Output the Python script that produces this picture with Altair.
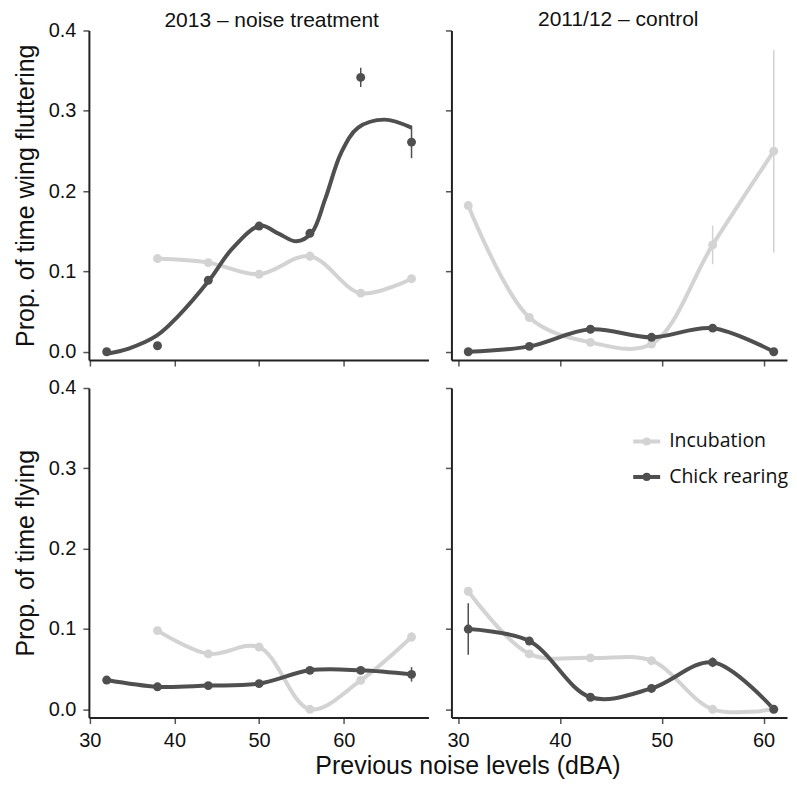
import altair as alt
import pandas as pd

groups = ["Incubation", "Chick rearing"]
colors = ["#d3d3d3", "#4f4f4f"]

# ---- 2013 noise treatment (left column) ----
noise_x_inc = [38, 44, 50, 56, 62, 68]
noise_x_chick = [32, 38, 44, 50, 56, 62, 68]

wf13_inc = [0.116, 0.111, 0.0965, 0.119, 0.073, 0.091]
wf13_inc_se = [0.003, 0.003, 0.003, 0.006, 0.003, 0.004]
wf13_chick = [0.0, 0.0075, 0.089, 0.1565, 0.1475, 0.3416, 0.261]
wf13_chick_se = [0.002, 0.002, 0.003, 0.003, 0.003, 0.012, 0.02]
# smoothed curve for chick rearing
wf13_chick_curve_x = [32, 34.6, 37.9, 40.5, 44.1, 46.8, 50.1, 52.3, 54.4, 56.2, 57.8, 59.7, 61.7, 64.8, 68]
wf13_chick_curve_y = [-0.0025, 0.004, 0.020, 0.045, 0.089, 0.128, 0.157, 0.147, 0.1375, 0.148, 0.19, 0.248, 0.279, 0.289, 0.279]

fl13_inc = [0.098, 0.069, 0.0775, 0.0, 0.036, 0.09]
fl13_inc_se = [0.003, 0.003, 0.003, 0.003, 0.003, 0.006]
fl13_chick = [0.0364, 0.028, 0.0295, 0.032, 0.0485, 0.0485, 0.0435]
fl13_chick_se = [0.002, 0.002, 0.002, 0.002, 0.003, 0.003, 0.009]

# ---- 2011/12 control (right column) ----
ctrl_x = [31, 37, 43, 49, 55, 61]

wf12_inc = [0.182, 0.0427, 0.0117, 0.0096, 0.133, 0.2497]
wf12_inc_se = [0.003, 0.003, 0.002, 0.002, 0.024, 0.126]
wf12_chick = [0.0, 0.0067, 0.028, 0.018, 0.0294, 0.0]
wf12_chick_se = [0.002, 0.002, 0.002, 0.002, 0.002, 0.002]

fl12_inc = [0.147, 0.069, 0.064, 0.0605, 0.0, 0.0]
fl12_inc_se = [0.003, 0.002, 0.002, 0.002, 0.002, 0.002]
fl12_chick = [0.0999, 0.085, 0.015, 0.026, 0.0585, 0.0]
fl12_chick_se = [0.032, 0.003, 0.002, 0.002, 0.006, 0.002]

y_ticks = [0.0, 0.1, 0.2, 0.3, 0.4]
x_ticks = [30, 40, 50, 60]

FONT = "Liberation Sans"
color_scale = alt.Scale(domain=groups, range=colors)


def points_df(x_inc, y_inc, se_inc, x_ch, y_ch, se_ch):
    rows = []
    for x, y, s in zip(x_inc, y_inc, se_inc):
        rows.append({"x": x, "y": y, "lo": y - s, "hi": y + s, "group": groups[0]})
    for x, y, s in zip(x_ch, y_ch, se_ch):
        rows.append({"x": x, "y": y, "lo": y - s, "hi": y + s, "group": groups[1]})
    return pd.DataFrame(rows)


def curve_df(x_inc, y_inc, x_ch, y_ch):
    rows = [{"x": x, "y": y, "group": groups[0]} for x, y in zip(x_inc, y_inc)]
    rows += [{"x": x, "y": y, "group": groups[1]} for x, y in zip(x_ch, y_ch)]
    return pd.DataFrame(rows)


legend_path = "M-1,0L1,0M-0.15,0A0.15,0.15,0,1,0,0.15,0A0.15,0.15,0,1,0,-0.15,0Z"
LEGEND = alt.Legend(title=None, orient="none", legendX=543, legendY=396,
                    symbolType=legend_path, symbolSize=729, symbolStrokeWidth=4,
                    labelFontSize=19.5, labelFont="Open Sans", labelColor="#111",
                    labelOffset=7, rowPadding=9.5)


def panel(pts, crv, xdom, width, left, bottom, ytitle=None, xtitle=None, title=None):
    xaxis_kw = dict(values=x_ticks, labels=bottom, tickSize=6, tickWidth=1.5, tickColor="#555",
                    domainColor="#222", domainWidth=2, labelFontSize=20, labelFont=FONT,
                    labelColor="#111", labelPadding=7, labelFlush=False, grid=False)
    if xtitle:
        xaxis_kw.update(title=xtitle, titleFontSize=25, titleFont=FONT, titleFontWeight="normal",
                        titleColor="#111", titleX=379, titleY=56, titleBaseline="alphabetic")
    else:
        xaxis_kw.update(title=None)
    yaxis_kw = dict(values=y_ticks, labels=left, format=".1f", tickSize=6, tickWidth=1.5,
                    tickColor="#555", domainColor="#222", domainWidth=2, labelFontSize=20,
                    labelFont=FONT, labelColor="#111", labelPadding=7, labelFlush=False, grid=False)
    if ytitle:
        yaxis_kw.update(title=ytitle, titleFontSize=25, titleFont=FONT, titleFontWeight="normal",
                        titleColor="#111", titlePadding=10)
    else:
        yaxis_kw.update(title=None)

    X = alt.X("x:Q", scale=alt.Scale(domain=xdom, nice=False, zero=False), axis=alt.Axis(**xaxis_kw))
    Y = alt.Y("y:Q", scale=alt.Scale(domain=[-0.0103, 0.4], nice=False, zero=False), axis=alt.Axis(**yaxis_kw))

    line = alt.Chart(crv).mark_line(strokeWidth=4, interpolate="catmull-rom").encode(
        x=X, y=Y, color=alt.Color("group:N", scale=color_scale, legend=LEGEND, sort=groups)
    )
    rule = alt.Chart(pts).mark_rule(strokeWidth=1.5).encode(
        x="x:Q", y="lo:Q", y2="hi:Q", color=alt.Color("group:N", scale=color_scale, legend=None)
    )
    pt = alt.Chart(pts).mark_circle(size=80, opacity=1).encode(
        x="x:Q", y="y:Q", color=alt.Color("group:N", scale=color_scale, legend=None)
    )
    ch = alt.layer(line, rule, pt).properties(width=width, height=330)
    if title:
        ch = ch.properties(title=title)
    return ch


tl = panel(
    points_df(noise_x_inc, wf13_inc, wf13_inc_se, noise_x_chick, wf13_chick, wf13_chick_se),
    curve_df(noise_x_inc, wf13_inc, wf13_chick_curve_x, wf13_chick_curve_y),
    [29.9, 70], 340, left=True, bottom=False, ytitle="Prop. of time wing fluttering",
    title=alt.TitleParams("2013 – noise treatment", fontSize=21, font=FONT, fontWeight="normal",
                          color="#111", offset=-10.5, dx=13, anchor="middle"),
)
tr = panel(
    points_df(ctrl_x, wf12_inc, wf12_inc_se, ctrl_x, wf12_chick, wf12_chick_se),
    curve_df(ctrl_x, wf12_inc, ctrl_x, wf12_chick),
    [29.35, 62.3], 336, left=False, bottom=False,
    title=alt.TitleParams("2011/12 – control", fontSize=21, font=FONT, fontWeight="normal",
                          color="#111", offset=-0.5, dx=-1, anchor="middle"),
)
bl = panel(
    points_df(noise_x_inc, fl13_inc, fl13_inc_se, noise_x_chick, fl13_chick, fl13_chick_se),
    curve_df(noise_x_inc, fl13_inc, noise_x_chick, fl13_chick),
    [29.9, 70], 340, left=True, bottom=True, ytitle="Prop. of time flying",
    xtitle="Previous noise levels (dBA)",
)
br = panel(
    points_df(ctrl_x, fl12_inc, fl12_inc_se, ctrl_x, fl12_chick, fl12_chick_se),
    curve_df(ctrl_x, fl12_inc, ctrl_x, fl12_chick),
    [29.35, 62.3], 336, left=False, bottom=True,
)

chart = alt.concat(
    tl, tr, bl, br, columns=2, spacing={"row": 28, "column": 23}, bounds="flush"
).properties(
    padding={"left": 5, "top": 0, "right": 0, "bottom": 0}
).configure(
    background="white", view=alt.ViewConfig(stroke=None)
)

chart.save("out.html", embed_options={"renderer": "svg", "actions": False})
